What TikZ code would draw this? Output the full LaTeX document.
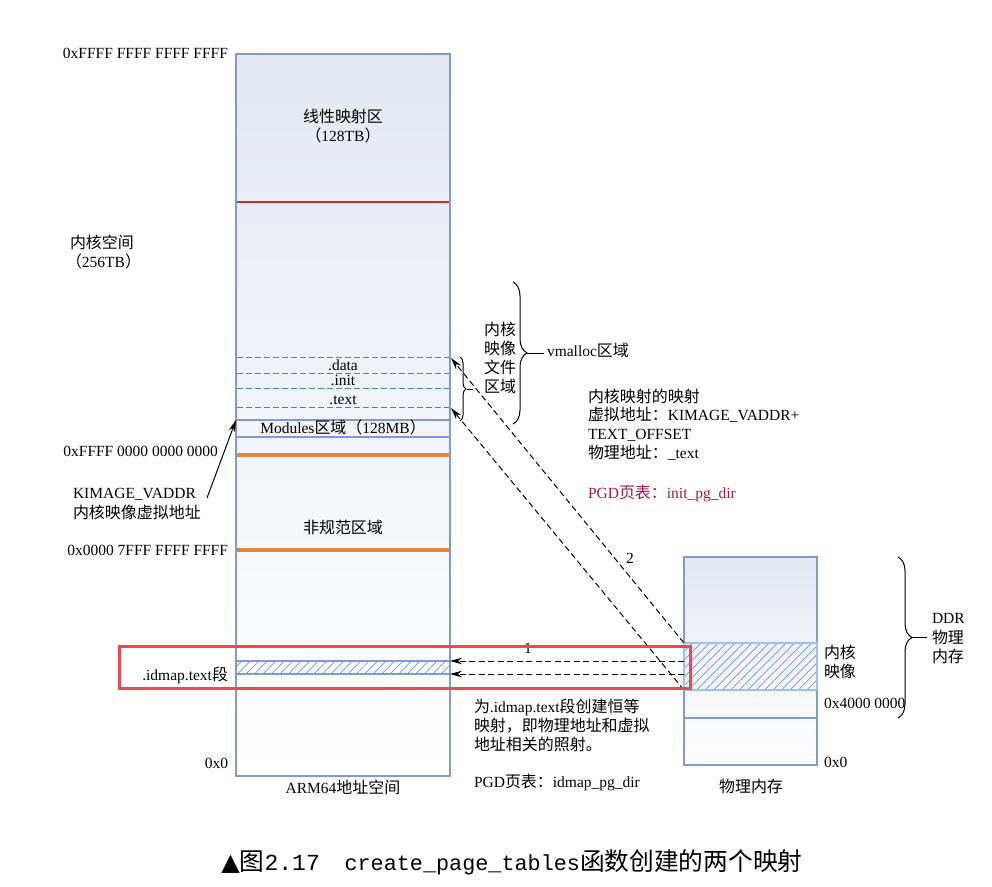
\documentclass[tikz,border=0pt]{standalone}
\usepackage{fontspec}
\setmainfont{Liberation Serif}
\newfontfamily\cjk[Scale=1.03]{Noto Sans CJK SC}
\newfontfamily\mono{Liberation Mono}
\newfontfamily\sym{DejaVu Sans}
\usetikzlibrary{arrows.meta,patterns.meta,decorations.pathreplacing}
\definecolor{boxc}{HTML}{7F9BCB}
\definecolor{topc}{HTML}{E4E8F2}
\definecolor{redl}{HTML}{D42A2A}
\definecolor{orl}{HTML}{E2853F}
\definecolor{dashc}{HTML}{4A7BD2}
\definecolor{hatc}{HTML}{7490D6}
\definecolor{hl}{HTML}{F04848}
\definecolor{pgd}{HTML}{A0184C}
\definecolor{kbord}{HTML}{9CC0F0}
\tikzset{
  membox/.style={draw=boxc, line width=1.2pt, top color=topc, bottom color=white, inner sep=0pt, outer sep=0pt},
  plainbox/.style={draw=boxc, line width=1.1pt, inner sep=0pt, outer sep=0pt},
  hatchbox/.style={inner sep=0pt, outer sep=0pt, pattern={Lines[angle=45,distance=6pt,line width=0.7pt]}, pattern color=hatc},
  txt/.style={inner sep=0pt, outer sep=0pt, font=\fontsize{15.5}{19}\selectfont},
  secline/.style={dashc, line width=1pt, dash pattern=on 6pt off 3pt},
  dasharrow/.style={draw=black, line width=1pt, dash pattern=on 6pt off 3.5pt, -{Stealth[length=12pt,width=6.5pt]}},
  solidarrow/.style={draw=black, line width=1pt, -{Stealth[length=12pt,width=6.5pt]}},
  bracedeco/.style={draw=black, line width=1pt, decorate, decoration={brace, amplitude=#1}},
}
\begin{document}
\begin{tikzpicture}[x=1pt,y=-1pt]
\useasboundingbox (0,0) rectangle (992,886);
\fill[white] (0,0) rectangle (992,886);

% ---------- virtual address space ----------
\node[membox, minimum width=214pt, minimum height=722pt, anchor=north west] (vas) at (236,54) {};
\draw[redl, line width=1.4pt] (236.6,202) -- (449.4,202);
\foreach \yy in {357,373,388,407} \draw[secline] (236.6,\yy) -- (449.4,\yy);
\node[plainbox, minimum width=214pt, minimum height=17pt, anchor=north west] (mod) at (236,420) {};
\draw[orl, line width=4pt] (236.6,455) -- (449.4,455);
\draw[orl, line width=4pt] (236.6,550) -- (449.4,550);
\node[plainbox, hatchbox, minimum width=214pt, minimum height=13pt, anchor=north west] (idm) at (236,661) {};

\node[txt, anchor=base] (t1) at (343,122.5) {{\cjk 线性映射区}};
\node[txt, anchor=base] (t2) at (343,141.5) {{\cjk （}128TB{\cjk ）}};
\node[txt, anchor=base] (tdata) at (343,370) {.data};
\node[txt, anchor=base] (tinit) at (343,385) {.init};
\node[txt, anchor=base] (ttext) at (343,404) {.text};
\node[txt, anchor=base] (tmod) at (343,433.5) {Modules{\cjk 区域（}128MB{\cjk ）}};
\node[txt, anchor=base] (tnc) at (343,533.5) {{\cjk 非规范区域}};
\node[txt, anchor=base] (tarm) at (343,793.5) {ARM64{\cjk 地址空间}};

% left labels
\node[txt, anchor=base east] (a1) at (228,58.5) {0xFFFF FFFF FFFF FFFF};
\node[txt, anchor=base west] (ks1) at (70,248.5) {{\cjk 内核空间}};
\node[txt, anchor=base west] (ks2) at (66,267.5) {{\cjk （}256TB{\cjk ）}};
\node[txt, anchor=base east] (a2) at (218,456.5) {0xFFFF 0000 0000 0000};
\node[txt, anchor=base west] (kv1) at (73,498.5) {KIMAGE\_VADDR};
\node[txt, anchor=base west] (kv2) at (73,518.5) {{\cjk 内核映像虚拟地址}};
\node[txt, anchor=base east] (a3) at (228,555.5) {0x0000 7FFF FFFF FFFF};
\node[txt, anchor=base east] (tidm) at (228,680.5) {.idmap.text{\cjk 段}};
\node[txt, anchor=base east] (a4) at (228,768.5) {0x0};
\coordinate (kimtail) at (207,498);
\draw[solidarrow] (kimtail) -- (mod.north west);

% ---------- braces near kernel image ----------
\draw[bracedeco=6pt] (460,357) -- (460,421);
\coordinate (sbtip) at (466.5,389);
\coordinate (sbend) at (473,389);
\draw[line width=1pt] (sbtip) -- (sbend);
\node[txt, anchor=base] (kif1) at (500,335.5) {{\cjk 内核}};
\node[txt, anchor=base] (kif2) at (500,354.5) {{\cjk 映像}};
\node[txt, anchor=base] (kif3) at (500,373.5) {{\cjk 文件}};
\node[txt, anchor=base] (kif4) at (500,392.5) {{\cjk 区域}};
\draw[bracedeco=14pt] (513,282) -- (513,424);
\coordinate (lbtip) at (527,353);
\coordinate (lbend) at (544,353);
\draw[line width=1pt] (lbtip) -- (lbend);
\node[txt, anchor=base west] (vm) at (547,356.5) {vmalloc{\cjk 区域}};

% mapping text
\node[txt, anchor=base west] (m1) at (588,402) {{\cjk 内核映射的映射}};
\node[txt, anchor=base west] (m2) at (588,420.5) {{\cjk 虚拟地址：}KIMAGE\_VADDR+};
\node[txt, anchor=base west] (m3) at (588,439.5) {TEXT\_OFFSET};
\node[txt, anchor=base west] (m4) at (588,458.5) {{\cjk 物理地址：}\_text};
\node[txt, anchor=base west, text=pgd] (m5) at (588,498) {PGD{\cjk 页表：}init\_pg\_dir};

% ---------- physical memory ----------
\node[membox, minimum width=133pt, minimum height=208pt, anchor=north west] (pm) at (684,557) {};
\node[hatchbox, draw=kbord, line width=1.1pt, minimum width=133pt, minimum height=47pt, anchor=north west] (kimg) at (684,643) {};
\draw[boxc, line width=1.1pt] (684,718) -- (817,718);
\node[txt, anchor=base west] (p1) at (824,658.5) {{\cjk 内核}};
\node[txt, anchor=base west] (p2) at (824,677.5) {{\cjk 映像}};
\node[txt, anchor=base west] (p3) at (824,708.5) {0x4000 0000};
\node[txt, anchor=base west] (p4) at (824,767.5) {0x0};
\node[txt, anchor=base] (p5) at (751,792.5) {{\cjk 物理内存}};
\draw[bracedeco=14pt] (898,557) -- (898,718);
\coordinate (rbtip) at (912,637.5);
\coordinate (rbend) at (927,637.5);
\draw[line width=1pt] (rbtip) -- (rbend);
\node[txt, anchor=base west] (d1) at (932,623.5) {DDR};
\node[txt, anchor=base west] (d2) at (932,643.5) {{\cjk 物理}};
\node[txt, anchor=base west] (d3) at (932,662.5) {{\cjk 内存}};

% ---------- mapping arrows ----------
\coordinate (dataTop) at (451,358);
\coordinate (textBot) at (451,408);
\draw[dasharrow] (kimg.north west) -- (dataTop);
\draw[dasharrow] (kimg.south west) -- (textBot);
\node[txt, anchor=base] (n2) at (630,563.5) {2};
\coordinate (i1s) at (684,661);
\coordinate (i2s) at (684,674);
\draw[dasharrow] (i1s) -- (idm.north east);
\draw[dasharrow] (i2s) -- (idm.south east);
\node[txt, anchor=base] (n1) at (528,653.5) {1};

% idmap text
\node[txt, anchor=base west] (b1) at (474,712) {{\cjk 为}.idmap.text{\cjk 段创建恒等}};
\node[txt, anchor=base west] (b2) at (474,731) {{\cjk 映射，即物理地址和虚拟}};
\node[txt, anchor=base west] (b3) at (474,750) {{\cjk 地址相关的照射。}};
\node[txt, anchor=base west] (b4) at (474,787.5) {PGD{\cjk 页表：}idmap\_pg\_dir};

% highlight
\node[draw=hl, line width=2.6pt, inner sep=0pt, minimum width=571pt, minimum height=42pt, anchor=north west] (hlbox) at (118,645) {};

% caption
\node[inner sep=0pt, anchor=base] (cap) at (512,870) {{\sym\fontsize{24}{28}\selectfont ▲}{\cjk\fontsize{24}{28}\selectfont 图}{\mono\fontsize{23}{26}\selectfont 2.17}{\cjk\fontsize{24}{28}\selectfont 　}{\mono\fontsize{21.8}{26}\selectfont create\_page\_tables}{\cjk\fontsize{24}{28}\selectfont 函数创建的两个映射}};
\end{tikzpicture}
\end{document}
